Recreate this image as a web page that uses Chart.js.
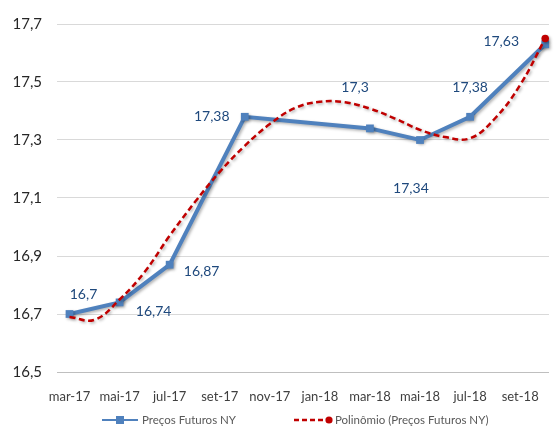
<!DOCTYPE html>
<html>
<head>
<meta charset="utf-8">
<script src="https://cdn.jsdelivr.net/npm/chart.js@4.4.1/dist/chart.umd.min.js"></script>
<style>
  html, body { margin: 0; padding: 0; background: #fff; }
  #wrap { width: 556px; height: 430px; position: relative; }
</style>
</head>
<body>
<div id="wrap"><canvas id="chart"></canvas></div>
<script>
// months counted from mar-17 (0)
const monthLabels = ['mar-17', 'mai-17', 'jul-17', 'set-17', 'nov-17', 'jan-18', 'mar-18', 'mai-18', 'jul-18', 'set-18'];
const tickMonths = [0, 2, 4, 6, 8, 10, 12, 14, 16, 18];
const yTicks = [16.5, 16.7, 16.9, 17.1, 17.3, 17.5, 17.7];

const priceMonths = [0, 2, 4, 7, 12, 14, 16, 19];
const priceValues = [16.70, 16.74, 16.87, 17.38, 17.34, 17.30, 17.38, 17.63];

// tendência polinomial, mês a mês
const trendMonths = [0, 1, 2, 3, 4, 5, 6, 7, 8, 9, 10, 11, 12, 13, 14, 15, 16, 17, 18, 19];
const trendValues = [16.69, 16.68, 16.75, 16.845, 16.97, 17.085, 17.19, 17.28, 17.355, 17.41, 17.432, 17.43, 17.408, 17.374, 17.335, 17.31, 17.306, 17.375, 17.49, 17.65];

const seriesNames = ['Preços Futuros NY', 'Polinômio (Preços Futuros NY)'];

const BLUE = '#4f81bd';
const RED = '#c00000';
const FONT = 'Lato';

// deslocamento (px) dos rótulos de dados em relação ao ponto
const labelOffsets = [[14, -20], [34, 9], [32, 7], [-33, 0], [41, 60], [-65, -53], [0, -29], [-44, -3]];

const shadowPlugin = {
  id: 'shadow',
  beforeDatasetDraw(chart) {
    const ctx = chart.ctx;
    ctx.save();
    ctx.shadowColor = 'rgba(0,0,0,0.3)';
    ctx.shadowBlur = 3;
    ctx.shadowOffsetX = 1.5;
    ctx.shadowOffsetY = 1.5;
  },
  afterDatasetDraw(chart) {
    chart.ctx.restore();
  }
};

const dataLabels = {
  id: 'dataLabels',
  afterDatasetsDraw(chart) {
    const ctx = chart.ctx;
    const meta = chart.getDatasetMeta(1);
    ctx.save();
    ctx.font = '14px ' + FONT;
    ctx.fillStyle = '#1f497d';
    ctx.textAlign = 'center';
    ctx.textBaseline = 'middle';
    meta.data.forEach((pt, i) => {
      const txt = String(priceValues[i]).replace('.', ',');
      ctx.fillText(txt, pt.x + labelOffsets[i][0], pt.y + labelOffsets[i][1]);
    });
    ctx.restore();
  }
};

const bottomLegend = {
  id: 'bottomLegend',
  afterDraw(chart) {
    const ctx = chart.ctx;
    const y = 420;
    ctx.save();
    ctx.font = '11.5px ' + FONT;
    ctx.fillStyle = '#595959';
    ctx.textBaseline = 'middle';
    // série de preços
    ctx.strokeStyle = BLUE;
    ctx.lineWidth = 2;
    ctx.beginPath(); ctx.moveTo(102, y); ctx.lineTo(138, y); ctx.stroke();
    ctx.fillStyle = BLUE;
    ctx.fillRect(116, y - 4, 8, 8);
    ctx.fillStyle = '#595959';
    ctx.fillText(seriesNames[0], 142, y);
    // tendência
    ctx.strokeStyle = RED;
    ctx.lineWidth = 2.5;
    ctx.setLineDash([5, 3]);
    ctx.beginPath(); ctx.moveTo(294, y); ctx.lineTo(326, y); ctx.stroke();
    ctx.setLineDash([]);
    ctx.fillStyle = RED;
    ctx.beginPath(); ctx.arc(329, y, 3.6, 0, Math.PI * 2); ctx.fill();
    ctx.fillStyle = '#595959';
    ctx.fillText(seriesNames[1], 335, y);
    ctx.restore();
  }
};

const canvas = document.getElementById('chart');

new Chart(canvas, {
  type: 'line',
  data: {
    datasets: [
      {
        label: seriesNames[1],
        data: trendMonths.map((m, i) => ({ x: m, y: trendValues[i] })),
        borderColor: RED,
        borderWidth: 2.5,
        borderDash: [6, 3.5],
        tension: 0.4,
        pointRadius: trendMonths.map((m, i) => i === trendMonths.length - 1 ? 3.8 : 0),
        pointBackgroundColor: RED,
        pointBorderWidth: 0,
        clip: false,
        order: 0
      },
      {
        label: seriesNames[0],
        data: priceMonths.map((m, i) => ({ x: m, y: priceValues[i] })),
        borderColor: BLUE,
        borderWidth: 4,
        tension: 0,
        pointStyle: 'rect',
        pointRadius: 5.5,
        pointBackgroundColor: BLUE,
        pointBorderWidth: 0,
        clip: false,
        order: 1
      }
    ]
  },
  options: {
    responsive: true,
    maintainAspectRatio: false,
    animation: false,
    layout: { padding: { top: 23, right: 0, bottom: 0, left: 0 } },
    plugins: {
      legend: { display: false },
      tooltip: { enabled: false }
    },
    scales: {
      x: {
        type: 'linear',
        min: -0.5,
        max: 19.15,
        afterBuildTicks: s => { s.ticks = tickMonths.map(v => ({ value: v })); },
        afterFit: s => { s.height = 58; },
        ticks: {
          autoSkip: false,
          maxRotation: 0,
          padding: 17,
          color: '#404040',
          font: { family: FONT, size: 13 },
          callback: (v, i) => monthLabels[i]
        },
        grid: { display: false, drawTicks: false },
        border: { display: true, color: '#bfbfbf', width: 1 }
      },
      y: {
        min: 16.5,
        max: 17.7,
        afterBuildTicks: s => { s.ticks = yTicks.map(v => ({ value: v })); },
        afterFit: s => { s.width = 57; },
        ticks: {
          padding: 15,
          color: '#262626',
          font: { family: FONT, size: 15 },
          callback: v => v.toFixed(1).replace('.', ',')
        },
        grid: {
          drawTicks: false,
          color: c => (c.tick && c.tick.value === 16.5) ? '#bfbfbf' : '#d9d9d9'
        },
        border: { display: false }
      }
    }
  },
  plugins: [shadowPlugin, dataLabels, bottomLegend]
});
</script>
</body>
</html>
